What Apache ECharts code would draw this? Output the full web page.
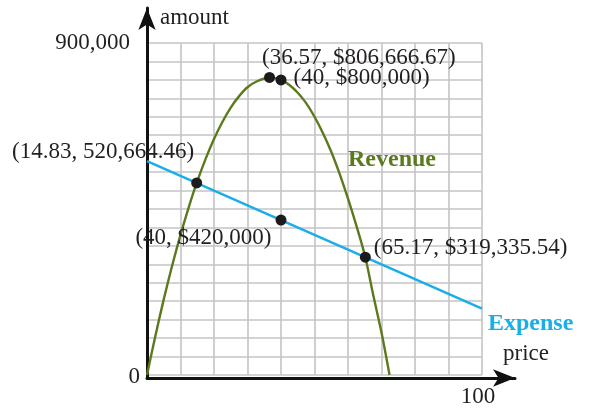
<!DOCTYPE html>
<html>
<head>
<meta charset="utf-8">
<script src="https://cdn.jsdelivr.net/npm/echarts@6/dist/echarts.min.js"></script>
<style>
  html, body { margin: 0; padding: 0; background: #ffffff; }
  #chart { width: 593px; height: 408px; }
</style>
</head>
<body>
<div id="chart"></div>
<script>
// Revenue curve sampled along price
const revenuePrice = [0, 2.5, 5, 7.5, 10, 12.5, 14.83, 17.5, 20, 22.5, 25, 27.5, 30, 33, 36.57, 40, 42.5, 45, 47.5, 50, 52.5, 55, 57.5, 60, 62.5, 65.17, 67.5, 70, 72.4];
const revenueAmount = [0, 106000, 205000, 296000, 380000, 456000, 520664.46, 586000, 640000, 686000, 725000, 756000, 780000, 797000, 806666.67, 800000, 786000, 765000, 737000, 700000, 656000, 605000, 545000, 478000, 405000, 319335.54, 218000, 115000, 0];

// Expense line end points
const expensePrice = [0, 100];
const expenseAmount = [580000, 180000];

// Marked points and their captions
const pointPrice = [36.57, 40, 14.83, 40, 65.17];
const pointAmount = [806666.67, 800000, 520664.46, 420000, 319335.54];
const pointLabels = ['(36.57, $806,666.67)', '(40, $800,000)', '(14.83, 520,664.46)', '(40, $420,000)', '(65.17, $319,335.54)'];

// Axis tick labels that are printed
const xTickValues = [100];
const xTickLabels = ['100'];
const yTickValues = [0, 900000];
const yTickLabels = ['0', '900,000'];

const FONT = "'Liberation Serif', 'DejaVu Serif', serif";
const FS = 23;
const TEXT_COLOR = '#231f20';
const GRID_COLOR = '#c4c4c8';
const REVENUE_COLOR = '#5b7a1e';
const EXPENSE_COLOR = '#19aee6';

// caption placement around each dot (offsets from the symbol box)
const labelPlacement = [
  { position: [-2, -14], align: 'left' },
  { position: [18, 4], align: 'left' },
  { position: [3, -25], align: 'right' },
  { position: [-4, 23], align: 'right' },
  { position: [14, -4], align: 'left' }
];

const chart = echarts.init(document.getElementById('chart'), null, { renderer: 'canvas' });

const zip = (xs, ys) => xs.map((x, i) => [x, ys[i]]);

const arrowAxisLine = {
  show: true, onZero: false,
  lineStyle: { color: '#111111', width: 3 },
  symbol: ['none', 'arrow'], symbolSize: [13, 22]
};

const option = {
  backgroundColor: '#ffffff',
  animation: false,
  textStyle: { fontFamily: FONT },
  grid: [
    { left: 147, right: 111, top: 43, bottom: 30, containLabel: false },
    // frame that carries the arrowed axis lines
    { left: 147, right: 78, top: 8, bottom: 30, containLabel: false }
  ],
  xAxis: [
    {
      type: 'value', gridIndex: 0, min: 0, max: 100, interval: 10,
      axisLine: { show: false },
      axisTick: { show: false },
      splitLine: { show: true, lineStyle: { color: GRID_COLOR, width: 1.6 } },
      axisLabel: {
        show: true, margin: 10, fontFamily: FONT, fontSize: FS, color: TEXT_COLOR,
        showMinLabel: true, showMaxLabel: true,
        formatter: v => {
          const i = xTickValues.indexOf(v);
          return i >= 0 ? '{t|' + xTickLabels[i] + '}' : '';
        },
        rich: { t: { fontFamily: FONT, fontSize: FS, color: TEXT_COLOR, padding: [0, 8, 0, 0] } }
      }
    },
    {
      type: 'value', gridIndex: 1, min: 0, max: 1,
      axisLine: arrowAxisLine,
      axisTick: { show: false }, axisLabel: { show: false }, splitLine: { show: false }
    }
  ],
  yAxis: [
    {
      type: 'value', gridIndex: 0, min: 0, max: 900000, interval: 50000,
      axisLine: { show: false },
      axisTick: { show: false },
      splitLine: { show: true, lineStyle: { color: GRID_COLOR, width: 1.6 } },
      axisLabel: {
        show: true, margin: 7, fontFamily: FONT, fontSize: FS, color: TEXT_COLOR,
        showMinLabel: true, showMaxLabel: true,
        formatter: v => {
          const i = yTickValues.indexOf(v);
          if (i < 0) return '';
          return v === 0 ? '{z|' + yTickLabels[i] + '}' : '{t|' + yTickLabels[i] + '}';
        },
        rich: {
          z: { fontFamily: FONT, fontSize: FS, color: TEXT_COLOR, padding: [4, 0, 0, 0] },
          t: { fontFamily: FONT, fontSize: FS, color: TEXT_COLOR, padding: [0, 10, 0, 0] }
        }
      }
    },
    {
      type: 'value', gridIndex: 1, min: 0, max: 1,
      axisLine: arrowAxisLine,
      axisTick: { show: false }, axisLabel: { show: false }, splitLine: { show: false }
    }
  ],
  graphic: [
    { type: 'text', z: 100, left: 160, top: 6, style: { text: 'amount', font: FS + 'px ' + FONT, fill: TEXT_COLOR } },
    { type: 'text', z: 100, left: 503, top: 342, style: { text: 'price', font: FS + 'px ' + FONT, fill: TEXT_COLOR } },
    { type: 'text', z: 100, left: 348, top: 148, style: { text: 'Revenue', font: 'bold 24px ' + FONT, fill: REVENUE_COLOR } },
    { type: 'text', z: 100, left: 488, top: 312, style: { text: 'Expense', font: 'bold 24px ' + FONT, fill: EXPENSE_COLOR } }
  ],
  series: [
    {
      name: 'Revenue', type: 'line', xAxisIndex: 0, yAxisIndex: 0,
      data: zip(revenuePrice, revenueAmount),
      smooth: 0.3,
      showSymbol: false, silent: true,
      lineStyle: { color: REVENUE_COLOR, width: 2.4 },
      z: 3
    },
    {
      name: 'Expense', type: 'line', xAxisIndex: 0, yAxisIndex: 0,
      data: zip(expensePrice, expenseAmount),
      showSymbol: false, silent: true,
      lineStyle: { color: EXPENSE_COLOR, width: 2.4 },
      z: 3
    },
    {
      name: 'Points', type: 'scatter', xAxisIndex: 0, yAxisIndex: 0,
      symbol: 'circle', symbolSize: 11, silent: true,
      itemStyle: { color: '#1c1a1b', opacity: 1 },
      emphasis: { disabled: true },
      z: 5,
      data: pointPrice.map((p, i) => ({
        value: [p, pointAmount[i]],
        label: {
          show: true,
          formatter: pointLabels[i],
          position: labelPlacement[i].position,
          align: labelPlacement[i].align,
          verticalAlign: 'middle',
          fontFamily: FONT, fontSize: FS, color: TEXT_COLOR, opacity: 1
        }
      }))
    }
  ]
};

chart.setOption(option);
</script>
</body>
</html>
